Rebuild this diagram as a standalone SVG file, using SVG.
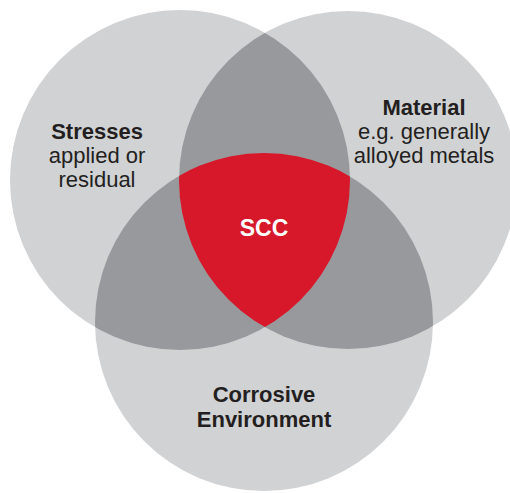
<svg xmlns="http://www.w3.org/2000/svg" width="510" height="493" viewBox="0 0 510 493">
<style>
.c{fill:#d1d2d4}
.d{fill:#98999c}
.r{fill:#d7182a}
text{font-family:"Liberation Sans",Arial,sans-serif;font-size:22px;fill:#231f20;text-anchor:middle}
.b{font-weight:bold}
.w{fill:#ffffff;font-weight:bold;font-size:23px}
</style>
<defs>
<clipPath id="cl"><circle cx="180" cy="180" r="170"/></clipPath>
<clipPath id="cr"><circle cx="348" cy="180" r="169"/></clipPath>
<clipPath id="cb"><circle cx="264" cy="322" r="169"/></clipPath>
</defs>
<rect width="510" height="493" fill="#ffffff"/>
<g id="stresses">
<circle class="c" cx="180" cy="180" r="170"/>
</g>
<g id="material">
<circle class="c" cx="348" cy="180" r="169"/>
</g>
<g id="environment">
<circle class="c" cx="264" cy="322" r="169"/>
</g>
<g id="overlaps">
<circle class="d" cx="348" cy="180" r="169" clip-path="url(#cl)"/>
<circle class="d" cx="264" cy="322" r="169" clip-path="url(#cl)"/>
<circle class="d" cx="264" cy="322" r="169" clip-path="url(#cr)"/>
<g clip-path="url(#cl)"><circle class="r" cx="264" cy="322" r="169" clip-path="url(#cr)"/></g>
</g>
<g id="labels">
<text class="b" x="97" y="139">Stresses</text>
<text x="97" y="163">applied or</text>
<text x="97" y="187">residual</text>
<text class="b" x="424" y="115">Material</text>
<text x="424" y="139">e.g. generally</text>
<text x="424" y="163">alloyed metals</text>
<text class="w" x="264" y="236">SCC</text>
<text class="b" x="264" y="402">Corrosive</text>
<text class="b" x="264" y="427">Environment</text>
</g>
</svg>
